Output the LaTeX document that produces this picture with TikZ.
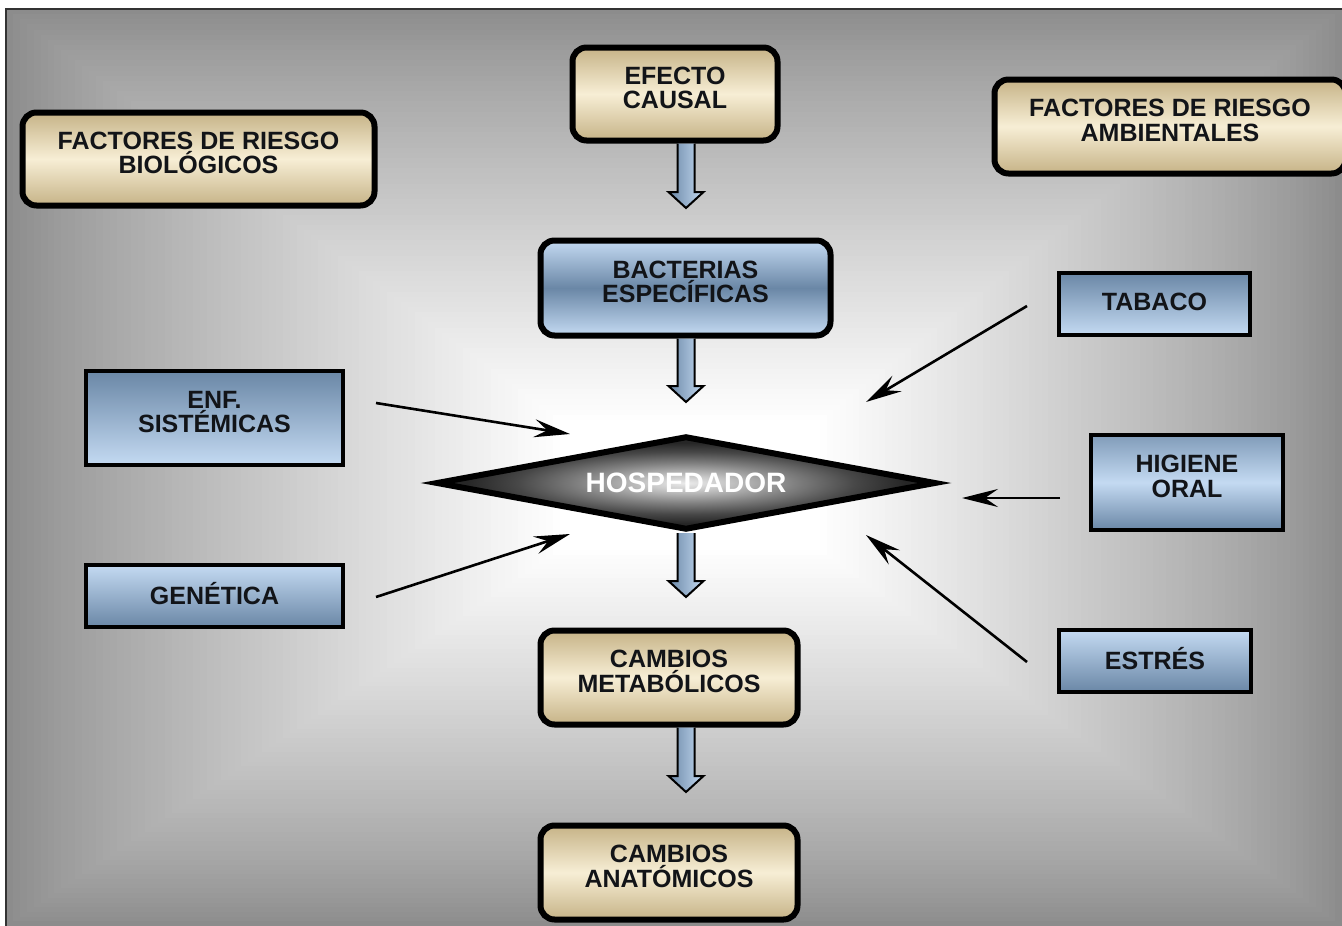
\documentclass[tikz,border=0pt]{standalone}
\usepackage{fontspec}
\setmainfont{Liberation Sans}
\usetikzlibrary{shapes.geometric,arrows.meta,calc}
\definecolor{tanD}{HTML}{C6B387}
\definecolor{tanL}{HTML}{F7EED5}
\definecolor{bluD}{HTML}{6A87A6}
\definecolor{bluL}{HTML}{C4DAF2}
\definecolor{txt}{HTML}{121418}
\pgfdeclareradialshading{hospshade}{\pgfpointorigin}{color(0bp)=(black!8); color(4bp)=(black!22); color(11bp)=(black!50); color(17bp)=(black!72); color(22bp)=(black!85); color(50bp)=(black!90)}
\newcommand\blockarr[2]{%
  \draw[blockarrow] let \p1=(#2), \p2=(#1.south) in
    (\x1-8.5pt,\y2) -- (\x1-8.5pt,\y1+16pt) -- (\x1-17.5pt,\y1+16pt) -- (\x1,\y1)
    -- (\x1+17.5pt,\y1+16pt) -- (\x1+8.5pt,\y1+16pt) -- (\x1+8.5pt,\y2);}
\begin{document}
\begin{tikzpicture}[x=1pt,y=-1pt,
  boxfont/.style={font=\fontsize{25}{24.5}\selectfont\bfseries, text=txt, align=center, inner sep=0pt},
  twoline/.style={text depth=12pt},
  oneline/.style={text depth=5pt},
  tanbox/.style={boxfont, twoline, draw=black, line width=6pt, rounded corners=14pt, top color=tanD, bottom color=tanD, middle color=tanL},
  bluround/.style={boxfont, twoline, draw=black, line width=6pt, rounded corners=14pt, top color=bluL, bottom color=bluL, middle color=bluD},
  bluedown/.style={boxfont, draw=black, line width=4.5pt, top color=bluD, bottom color=bluL},
  blueup/.style={boxfont, draw=black, line width=4.5pt, top color=bluL, bottom color=bluD},
  bluemid/.style={boxfont, draw=black, line width=4.5pt, top color=bluD!75!bluL, bottom color=bluD, middle color=bluL},
  hospnode/.style={diamond, aspect=5.2, draw=black, line width=6pt, shading=hospshade, inner sep=0pt, text=white, font=\fontsize{28}{28}\selectfont\bfseries},
  thinarrow/.style={-{Stealth[length=36pt,width=18pt,inset=13pt]}, line width=2.6pt, black},
  blockarrow/.style={draw=black, line width=2pt, left color=bluD, right color=bluL},
]
\useasboundingbox (0,0) rectangle (1342,926);
\clip (0,0) rectangle (1342,926);
% background
\fill[white] (0,0) rectangle (1342,926);
\fill[black!45] (6,9) rectangle (1342,926);
\foreach \i in {1,...,80}{
  \pgfmathsetmacro\t{\i/80}
  \pgfmathsetmacro\k{45*(1-pow(\t,0.85))}
  \fill[black!\k] ({6+554*\t},{9+411*\t}) rectangle ({1342-522*\t},{926-376*\t});
}
\draw[black!80, line width=1.2pt] (6,926) -- (6,9) -- (1342,9);

% nodes
\node[tanbox, minimum width=352, minimum height=93] (bio) at (198.5,159) {FACTORES DE RIESGO\\BIOLÓGICOS};
\node[tanbox, minimum width=205, minimum height=93] (efecto) at (675,94) {EFECTO\\CAUSAL};
\node[tanbox, minimum width=351, minimum height=94] (amb) at (1170,126.5) {FACTORES DE RIESGO\\AMBIENTALES};
\node[bluround, minimum width=290, minimum height=95] (bact) at (685.5,288) {BACTERIAS\\ESPECÍFICAS};
\node[hospnode, minimum width=500, minimum height=94] (hosp) at (686,483) {HOSPEDADOR};
\node[tanbox, minimum width=257, minimum height=94] (metab) at (669,677.5) {CAMBIOS\\METABÓLICOS};
\node[tanbox, minimum width=257, minimum height=94] (anat) at (669,872.5) {CAMBIOS\\ANATÓMICOS};
\node[bluedown, twoline, minimum width=257, minimum height=94] (enf) at (214.5,418) {ENF.\\SISTÉMICAS};
\node[blueup, oneline, minimum width=257, minimum height=62] (gen) at (214.5,596) {GENÉTICA};
\node[bluedown, oneline, minimum width=191, minimum height=62] (tab) at (1154.5,304) {TABACO};
\node[bluemid, twoline, minimum width=192, minimum height=95] (hig) at (1187,482.5) {HIGIENE\\ORAL};
\node[blueup, oneline, minimum width=192, minimum height=62] (est) at (1155,661) {ESTRÉS};

% block arrows
\coordinate (t1) at (686,208);
\coordinate (t2) at (686,402);
\coordinate (t3) at (686,597);
\coordinate (t4) at (686,792);
\blockarr{efecto}{t1}
\blockarr{bact}{t2}
\blockarr{hosp}{t3}
\blockarr{metab}{t4}

% thin arrows
\coordinate (enfS) at (376,403);  \coordinate (enfE) at (570,434);
\coordinate (genS) at (376,597);  \coordinate (genE) at (570,534);
\coordinate (tabS) at (1027,306); \coordinate (tabE) at (866,402);
\coordinate (higS) at (1060,498); \coordinate (higE) at (962,498);
\coordinate (estS) at (1027,662); \coordinate (estE) at (866,535);
\draw[thinarrow] (enfS) -- (enfE);
\draw[thinarrow] (genS) -- (genE);
\draw[thinarrow] (tabS) -- (tabE);
\draw[thinarrow] (higS) -- (higE);
\draw[thinarrow] (estS) -- (estE);
\end{tikzpicture}
\end{document}
